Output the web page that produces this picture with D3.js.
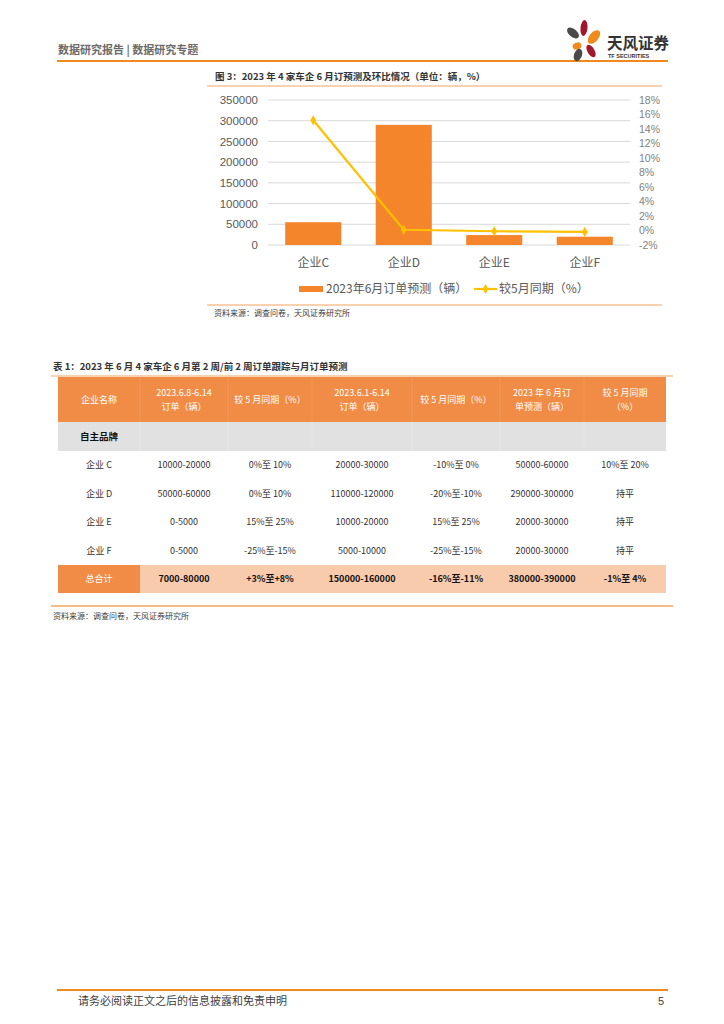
<!DOCTYPE html>
<html><head><meta charset="utf-8">
<script src="https://cdn.jsdelivr.net/npm/d3@7/dist/d3.min.js"></script>
<style>
body{margin:0;background:#fff;}
svg{display:block;font-family:"Liberation Sans","Noto Sans CJK SC",sans-serif;}
</style></head>
<body><svg id="page" width="724" height="1024"></svg>
<script>
// ---- chart data ----
const categories = ["企业C","企业D","企业E","企业F"];
const orders = [55000, 290000, 24000, 20000];      // 2023年6月订单预测（辆）
const momPct = [15.2, 0.1, -0.1, -0.2];             // 较5月同期（%）
const leftTicks = [0,50000,100000,150000,200000,250000,300000,350000];
const rightTicks = [-2,0,2,4,6,8,10,12,14,16,18];
const seriesNames = ["2023年6月订单预测（辆）","较5月同期（%）"];

// ---- table data ----
const tableHeader = [["企业名称"],["2023.6.8-6.14","订单（辆）"],["较 5 月同期（%）"],["2023.6.1-6.14","订单（辆）"],["较 5 月同期（%）"],["2023 年 6 月订","单预测（辆）"],["较 5 月同期","（%）"]];
const groupLabel = "自主品牌";
const tableRows = [
  ["企业 C","10000-20000","0%至 10%","20000-30000","-10%至 0%","50000-60000","10%至 20%"],
  ["企业 D","50000-60000","0%至 10%","110000-120000","-20%至-10%","290000-300000","持平"],
  ["企业 E","0-5000","15%至 25%","10000-20000","15%至 25%","20000-30000","持平"],
  ["企业 F","0-5000","-25%至-15%","5000-10000","-25%至-15%","20000-30000","持平"]
];
const totalRow = ["总合计","7000-80000","+3%至+8%","150000-160000","-16%至-11%","380000-390000","-1%至 4%"];

const svg = d3.select("#page");
const CJK = "'Noto Sans CJK SC','Liberation Sans',sans-serif";

// ---- page header ----
svg.append("text").attr("x",58).attr("y",54).attr("font-size",11).attr("font-weight","bold")
  .attr("fill","#6b6b6b").attr("font-family",CJK).text("数据研究报告 | 数据研究专题");
svg.append("line").attr("x1",57).attr("x2",668).attr("y1",61).attr("y2",61).attr("stroke","#F08A1C").attr("stroke-width",2);
// logo petals
const petals = [
  {cx:573,cy:33,rx:4,ry:7,rot:-50,c:"#4a4a4a"},
  {cx:584,cy:28,rx:3.5,ry:8,rot:5,c:"#A0182C"},
  {cx:594,cy:37,rx:4.5,ry:8,rot:40,c:"#F08A1C"},
  {cx:577,cy:46,rx:4.5,ry:3.5,rot:-20,c:"#F08A1C"},
  {cx:578,cy:55,rx:4,ry:6.5,rot:20,c:"#4a4a4a"},
  {cx:591,cy:51,rx:3.5,ry:7,rot:-30,c:"#A0182C"}
];
svg.selectAll("ellipse.petal").data(petals).join("ellipse").attr("class","petal")
  .attr("cx",d=>d.cx).attr("cy",d=>d.cy).attr("rx",d=>d.rx).attr("ry",d=>d.ry)
  .attr("transform",d=>`rotate(${d.rot},${d.cx},${d.cy})`).attr("fill",d=>d.c);
svg.append("text").attr("x",607).attr("y",49).attr("font-size",15.5).attr("font-weight","bold")
  .attr("fill","#333").attr("font-family",CJK).text("天风证券");
svg.append("text").attr("x",608).attr("y",58).attr("font-size",5.5).attr("font-weight","bold")
  .attr("fill","#333").text("TF SECURITIES");

// ---- figure title ----
svg.append("text").attr("x",215).attr("y",80).attr("font-size",9.5).attr("font-weight","bold")
  .attr("fill","#333").attr("font-family",CJK).text("图 3：2023 年 4 家车企 6 月订预测及环比情况（单位：辆，%）");
svg.append("line").attr("x1",207).attr("x2",662).attr("y1",86).attr("y2",86).attr("stroke","#F4A460").attr("stroke-width",1.2);

// ---- chart ----
const x = d3.scaleBand().domain(categories).range([268,630]).paddingInner(0.38).paddingOuter(0.19);
const yL = d3.scaleLinear().domain([0,350000]).range([245,100]);
const yR = d3.scaleLinear().domain([-2,18]).range([245,100]);

const g = svg.append("g");
// gridlines
g.selectAll("line.grid").data(leftTicks).join("line").attr("class","grid")
  .attr("x1",268).attr("x2",630).attr("y1",d=>yL(d)).attr("y2",d=>yL(d))
  .attr("stroke","#D9D9D9").attr("stroke-width",1);

const axL = g.append("g").attr("transform","translate(268,0)")
  .call(d3.axisLeft(yL).tickValues(leftTicks).tickFormat(d3.format("d")).tickSize(0).tickPadding(10));
axL.select(".domain").remove();
axL.selectAll("text").attr("font-size",11.5).attr("fill","#595959").attr("font-family","'Liberation Sans',sans-serif");

const axR = g.append("g").attr("transform","translate(630,0)")
  .call(d3.axisRight(yR).tickValues(rightTicks).tickFormat(d=>d+"%").tickSize(0).tickPadding(9));
axR.select(".domain").remove();
axR.selectAll("text").attr("font-size",10.5).attr("fill","#7f7f7f").attr("font-family","'Liberation Sans',sans-serif");

// bars
g.selectAll("rect.bar").data(categories).join("rect").attr("class","bar")
  .attr("x",d=>x(d)).attr("width",x.bandwidth())
  .attr("y",(d,i)=>yL(orders[i])).attr("height",(d,i)=>yL(0)-yL(orders[i]))
  .attr("fill","#F5852A");

// category labels
const axB = g.append("g").attr("transform","translate(0,245)")
  .call(d3.axisBottom(x).tickSize(0).tickPadding(13));
axB.select(".domain").remove();
axB.selectAll("text").attr("font-size",12).attr("fill","#595959").attr("font-family",CJK);

// line
const lineData = categories.map((c,i)=>({c,v:momPct[i]}));
const lineGen = d3.line().x(d=>x(d.c)+x.bandwidth()/2).y(d=>yR(d.v));
g.append("path").datum(lineData).attr("d",lineGen).attr("fill","none")
  .attr("stroke","#FFC000").attr("stroke-width",2.2);
const diamond = d3.symbol().type(d3.symbolDiamond).size(30);
g.selectAll("path.mk").data(lineData).join("path").attr("class","mk")
  .attr("d",diamond).attr("transform",d=>`translate(${x(d.c)+x.bandwidth()/2},${yR(d.v)})`)
  .attr("fill","#FFC000");

// legend
svg.append("rect").attr("x",299).attr("y",286).attr("width",24).attr("height",6).attr("fill","#F5852A");
svg.append("text").attr("x",326).attr("y",293).attr("font-size",12).attr("fill","#595959")
  .attr("font-family",CJK).text(seriesNames[0]);
svg.append("line").attr("x1",474).attr("x2",497).attr("y1",289).attr("y2",289).attr("stroke","#FFC000").attr("stroke-width",2.2);
svg.append("path").attr("d",diamond).attr("transform","translate(485.5,289)").attr("fill","#FFC000");
svg.append("text").attr("x",499).attr("y",293).attr("font-size",12).attr("fill","#595959")
  .attr("font-family",CJK).text(seriesNames[1]);

svg.append("line").attr("x1",207).attr("x2",662).attr("y1",305).attr("y2",305).attr("stroke","#F4A460").attr("stroke-width",1.2);
svg.append("text").attr("x",214).attr("y",316).attr("font-size",8).attr("fill","#404040")
  .attr("font-family",CJK).text("资料来源：调查问卷，天风证券研究所");

// ---- table ----
svg.append("text").attr("x",53).attr("y",370).attr("font-size",9.5).attr("font-weight","bold")
  .attr("fill","#333").attr("font-family",CJK).text("表 1：2023 年 6 月 4 家车企 6 月第 2 周/前 2 周订单跟踪与月订单预测");
svg.append("line").attr("x1",51).attr("x2",673).attr("y1",376).attr("y2",376).attr("stroke","#F4A460").attr("stroke-width",1.2);

const colEdges = [58,140,228,312,412,500,584,666];
const colCenter = i => (colEdges[i]+colEdges[i+1])/2;
const T = svg.append("g").attr("font-family",CJK);

// header row
T.append("rect").attr("x",58).attr("y",377).attr("width",608).attr("height",45).attr("fill","#F08C46");
colEdges.slice(1,-1).forEach(xe=>T.append("line").attr("x1",xe).attr("x2",xe).attr("y1",377).attr("y2",422).attr("stroke","#F39A5A").attr("stroke-width",0.8));
tableHeader.forEach((lines,i)=>{
  const y0 = lines.length===1 ? 402.5 : 396;
  lines.forEach((t,k)=>T.append("text").attr("x",colCenter(i)).attr("y",y0+k*14)
    .attr("text-anchor","middle").attr("font-size",9).attr("fill","#fff").text(t));
});
// group row
T.append("rect").attr("x",58).attr("y",422).attr("width",608).attr("height",29).attr("fill","#E1E1E1");
colEdges.slice(1,-1).forEach(xe=>T.append("line").attr("x1",xe).attr("x2",xe).attr("y1",422).attr("y2",451).attr("stroke","#E8E8E8").attr("stroke-width",0.8));
T.append("text").attr("x",colCenter(0)).attr("y",440).attr("text-anchor","middle")
  .attr("font-size",9.5).attr("font-weight","bold").attr("fill","#111").text(groupLabel);
// body rows
const rowY = d3.scaleBand().domain(d3.range(tableRows.length)).range([451,565]);
tableRows.forEach((row,r)=>{
  row.forEach((t,i)=>T.append("text").attr("x",colCenter(i)).attr("y",rowY(r)+rowY.bandwidth()/2+3)
    .attr("text-anchor","middle").attr("font-size",9).attr("fill","#333").text(t));
});
// total row
T.append("rect").attr("x",58).attr("y",565).attr("width",608).attr("height",28).attr("fill","#F8CBAD");
T.append("rect").attr("x",58).attr("y",565).attr("width",82).attr("height",28).attr("fill","#F08C46");
totalRow.forEach((t,i)=>T.append("text").attr("x",colCenter(i)).attr("y",582)
  .attr("text-anchor","middle").attr("font-size",9).attr("font-weight",i===0?"normal":"bold")
  .attr("fill",i===0?"#fff":"#111").text(t));

svg.append("line").attr("x1",51).attr("x2",673).attr("y1",606).attr("y2",606).attr("stroke","#F4A460").attr("stroke-width",1.5);
svg.append("text").attr("x",53).attr("y",619).attr("font-size",8).attr("fill","#404040")
  .attr("font-family",CJK).text("资料来源：调查问卷，天风证券研究所");

// ---- footer ----
svg.append("line").attr("x1",57).attr("x2",668).attr("y1",990).attr("y2",990).attr("stroke","#F08A1C").attr("stroke-width",2);
svg.append("text").attr("x",78).attr("y",1005).attr("font-size",11).attr("fill","#404040")
  .attr("font-family",CJK).text("请务必阅读正文之后的信息披露和免责申明");
svg.append("text").attr("x",664).attr("y",1005).attr("text-anchor","end").attr("font-size",11).attr("fill","#404040").text("5");
</script></body></html>
